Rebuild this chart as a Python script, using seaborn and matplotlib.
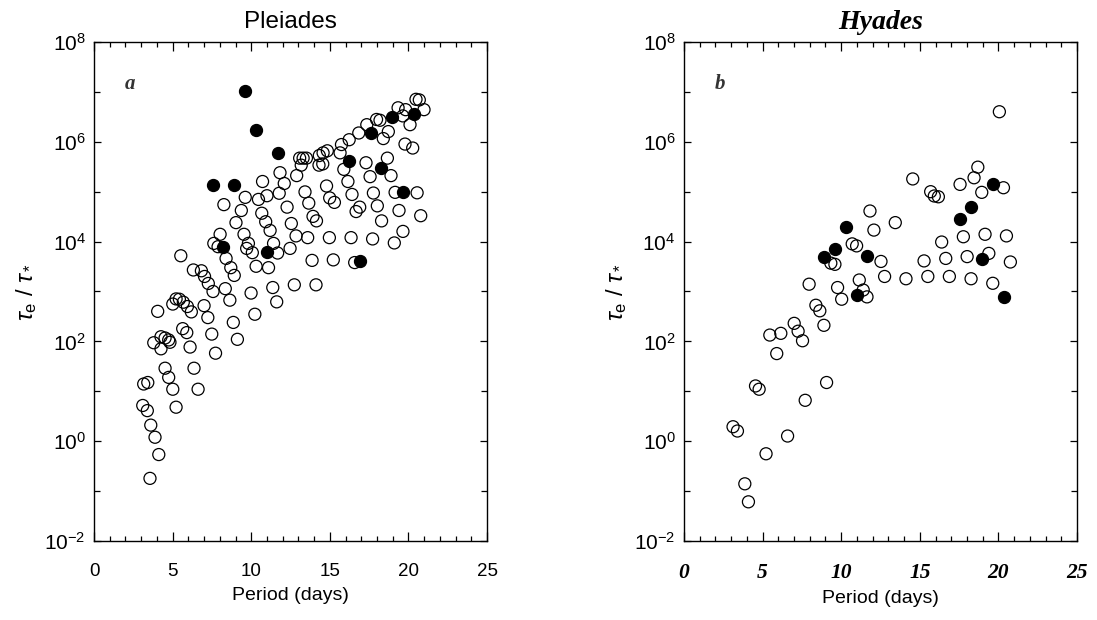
import pandas as pd
import matplotlib
matplotlib.use("Agg")
import matplotlib.pyplot as plt
import seaborn as sns

# Pleiades, open circles
plei_open_period = [
    20.48, 20.69, 20.99, 19.34, 19.82, 19.64, 20.10, 17.97, 18.19, 17.35,
    18.72, 18.40, 16.84, 16.23, 15.74, 15.65, 14.84, 14.57, 14.33, 14.31,
    14.55, 19.78, 20.27, 13.08, 13.30, 13.51, 13.18, 12.89, 11.83, 12.10,
    10.72, 11.78, 17.30, 17.56, 18.66, 18.89, 15.89, 16.15, 14.79, 16.41,
    17.77, 19.15, 20.55, 13.42, 14.99, 15.29, 13.66, 18.02, 16.90, 16.67,
    19.40, 20.78, 18.29, 19.65, 19.10, 17.72, 16.35, 14.97, 13.59, 12.85,
    12.55, 12.28, 13.93, 14.15, 13.87, 15.22, 16.58, 9.62, 10.46, 11.00,
    9.37, 10.67, 10.92, 11.20, 8.26, 9.03, 9.54, 9.82, 9.71, 10.07,
    11.42, 11.68, 12.47, 10.31, 11.10, 8.02, 7.62, 7.89, 8.40, 8.70,
    8.92, 5.52, 6.32, 6.83, 7.03, 7.27, 7.57, 8.35, 9.99, 11.37,
    12.74, 14.12, 8.64, 11.62, 10.23, 8.86, 9.12, 7.73, 7.00, 7.24,
    7.49, 6.11, 6.36, 6.62, 5.01, 5.22, 5.43, 5.68, 5.94, 6.19,
    4.05, 5.64, 5.90, 3.80, 4.26, 4.52, 4.75, 4.83, 4.26, 4.52,
    4.75, 5.01, 5.22, 3.16, 3.42, 3.10, 3.39, 3.61, 3.88, 4.12,
    3.56,
]
plei_open_ratio = [
    7.1e6, 6.9e6, 4.4e6, 4.8e6, 4.4e6, 3.3e6, 2.2e6, 2.8e6, 2.7e6, 2.2e6,
    1.6e6, 1.16e6, 1.5e6, 1.1e6, 8.8e5, 6.0e5, 6.6e5, 6.0e5, 5.3e5, 3.4e5,
    3.6e5, 9.0e5, 7.5e5, 4.7e5, 4.7e5, 4.7e5, 3.4e5, 2.1e5, 2.4e5, 1.46e5,
    1.6e5, 9.3e4, 3.8e5, 2.0e5, 4.7e5, 2.1e5, 2.8e5, 1.6e5, 1.3e5, 8.8e4,
    9.4e4, 9.7e4, 9.5e4, 9.9e4, 7.5e4, 6.1e4, 5.9e4, 5.2e4, 4.9e4, 4.0e4,
    4.2e4, 3.3e4, 2.6e4, 1.6e4, 9.4e3, 1.13e4, 1.2e4, 1.2e4, 1.2e4, 1.3e4,
    2.3e4, 4.9e4, 3.2e4, 2.6e4, 4.2e3, 4.3e3, 3.8e3, 7.7e4, 7.0e4, 8.3e4,
    4.2e4, 3.7e4, 2.5e4, 1.67e4, 5.5e4, 2.4e4, 1.4e4, 9.2e3, 7.3e3, 6.0e3,
    9.2e3, 5.9e3, 7.3e3, 3.2e3, 3.0e3, 1.4e4, 9.2e3, 7.9e3, 4.6e3, 3.0e3,
    2.1e3, 5.2e3, 2.7e3, 2.6e3, 2.0e3, 1.45e3, 1.0e3, 1.14e3, 9.3e2, 1.2e3,
    1.36e3, 1.36e3, 6.7e2, 6.2e2, 3.5e2, 2.4e2, 1.1e2, 58, 5.2e2, 3.0e2,
    1.4e2, 77, 29, 11, 5.6e2, 7.1e2, 7.0e2, 6.1e2, 5.0e2, 3.9e2,
    4.0e2, 1.8e2, 1.5e2, 94, 1.24e2, 1.17e2, 1.07e2, 96, 71, 29,
    19, 11, 4.8, 14, 15, 5.2, 4.1, 2.1, 1.2, 0.54,
    0.18,
]
# Pleiades, filled circles
plei_fill_period = [9.61, 10.29, 11.69, 7.57, 8.93, 8.23, 11.00, 16.92,
                    16.22, 18.26, 19.64, 17.60, 18.96, 20.34]
plei_fill_ratio = [1.06e7, 1.72e6, 6.0e5, 1.38e5, 1.38e5, 7.9e3, 6.1e3, 4.1e3,
                   4.1e5, 3.0e5, 1.0e5, 1.48e6, 3.1e6, 3.6e6]

# Hyades, open circles
hya_open_period = [
    20.06, 18.69, 18.45, 17.56, 20.32, 18.94, 14.55, 15.69, 15.92, 16.18,
    11.83, 12.08, 13.44, 10.70, 10.98, 9.34, 9.60, 7.96, 9.77, 10.03,
    11.15, 11.40, 11.64, 12.53, 12.76, 14.12, 15.51, 16.88, 18.26, 19.64,
    15.27, 16.65, 18.01, 19.39, 20.76, 16.39, 17.77, 19.15, 20.51, 8.39,
    8.64, 8.90, 7.01, 7.26, 7.54, 5.46, 6.16, 5.90, 9.07, 7.71,
    4.55, 4.78, 3.12, 3.40, 6.59, 5.22, 3.87, 4.10,
]
hya_open_ratio = [
    4.0e6, 3.1e5, 1.9e5, 1.4e5, 1.2e5, 9.7e4, 1.8e5, 1.0e5, 8.2e4, 7.9e4,
    4.1e4, 1.7e4, 2.4e4, 9.0e3, 8.2e3, 3.7e3, 3.5e3, 1.4e3, 1.2e3, 7.0e2,
    1.7e3, 1.07e3, 7.8e2, 4.0e3, 2.0e3, 1.8e3, 2.0e3, 2.0e3, 1.8e3, 1.46e3,
    4.1e3, 4.6e3, 5.0e3, 5.8e3, 3.9e3, 9.8e3, 1.25e4, 1.4e4, 1.3e4, 5.3e2,
    4.1e2, 2.1e2, 2.3e2, 1.6e2, 1.03e2, 1.34e2, 1.45e2, 57, 15, 6.6,
    12.8, 11, 1.95, 1.6, 1.27, 0.56, 0.14, 0.061,
]
# Hyades, filled circles
hya_fill_period = [19.63, 18.26, 17.56, 18.94, 10.28, 9.60, 8.90, 11.64, 10.98, 20.33]
hya_fill_ratio = [1.4e5, 5.0e4, 2.8e4, 4.5e3, 2.0e4, 7.0e3, 4.9e3, 5.2e3, 8.4e2, 7.9e2]

x_ticks = [0, 5, 10, 15, 20, 25]
y_ticks = [1e-2, 1e0, 1e2, 1e4, 1e6, 1e8]
y_minor = [1e-1, 1e1, 1e3, 1e5, 1e7]
y_tick_labels = [r"$10^{-2}$", r"$10^{0}$", r"$10^{2}$", r"$10^{4}$", r"$10^{6}$", r"$10^{8}$"]


def make_df(op, orr, fp, fr):
    d1 = pd.DataFrame({"period": op, "ratio": orr, "kind": "open"})
    d2 = pd.DataFrame({"period": fp, "ratio": fr, "kind": "filled"})
    return pd.concat([d1, d2], ignore_index=True)


plei = make_df(plei_open_period, plei_open_ratio, plei_fill_period, plei_fill_ratio)
hya = make_df(hya_open_period, hya_open_ratio, hya_fill_period, hya_fill_ratio)

sns.set_style("ticks")
plt.rcParams["font.family"] = ["Liberation Sans", "DejaVu Sans"]
plt.rcParams["mathtext.fontset"] = "custom"
plt.rcParams["mathtext.rm"] = "Liberation Sans"
plt.rcParams["mathtext.it"] = "Liberation Sans:italic"
plt.rcParams["mathtext.bf"] = "Liberation Sans:bold"
plt.rcParams["text.color"] = "black"
plt.rcParams["axes.labelcolor"] = "black"
plt.rcParams["xtick.color"] = "black"
plt.rcParams["ytick.color"] = "black"

fig = plt.figure(figsize=(10.97, 6.2), dpi=100)
ax1 = fig.add_axes([0.0857, 0.1274, 0.3583, 0.8049])
ax2 = fig.add_axes([0.6235, 0.1274, 0.3583, 0.8049])

serif_bi = dict(family="Liberation Serif", style="italic", weight="bold")

for ax, df, letter in [(ax1, plei, "a"), (ax2, hya, "b")]:
    sns.scatterplot(data=df[df.kind == "open"], x="period", y="ratio", ax=ax,
                    marker="o", s=75, facecolors="none", edgecolor="black",
                    linewidth=0.9, legend=False)
    sns.scatterplot(data=df[df.kind == "filled"], x="period", y="ratio", ax=ax,
                    marker="o", s=75, color="black", edgecolor="black",
                    linewidth=0.9, legend=False)
    ax.set_yscale("log")
    ax.set_xlim(0, 25)
    ax.set_ylim(1e-2, 1e8)
    ax.set_xticks(x_ticks)
    ax.set_xticks(range(0, 26), minor=True)
    ax.set_yticks(y_ticks)
    ax.set_yticklabels(y_tick_labels)
    ax.set_yticks(y_minor, minor=True)
    ax.yaxis.set_minor_formatter(plt.NullFormatter())
    ax.tick_params(which="both", direction="in", top=True, right=True, width=0.9)
    ax.tick_params(axis="x", which="major", length=6.5, pad=16, labelsize=13.5)
    ax.tick_params(axis="x", which="minor", length=3.3)
    ax.tick_params(axis="y", which="major", length=5, pad=6, labelsize=15)
    ax.tick_params(axis="y", which="minor", length=4)
    for sp in ax.spines.values():
        sp.set_linewidth(1.0)
        sp.set_color("black")
    ax.set_xlabel("Period (days)", fontsize=14, labelpad=5)
    ax.set_ylabel(r"$\tau_{\rm e}\ /\ \tau_*$", fontsize=17, labelpad=4)
    ax.text(0.092, 0.915, letter, transform=ax.transAxes, fontsize=15,
            va="center", ha="center", color="#333333", **serif_bi)

ax1.set_title("Pleiades", fontsize=17.5, pad=10)
ax2.set_title("Hyades", fontsize=20, pad=9, **serif_bi)
for lab in ax2.get_xticklabels():
    lab.set_fontfamily("Liberation Serif")
    lab.set_fontstyle("italic")
    lab.set_fontweight("bold")
    lab.set_fontsize(15.5)

fig.savefig("out.png", dpi=100)
